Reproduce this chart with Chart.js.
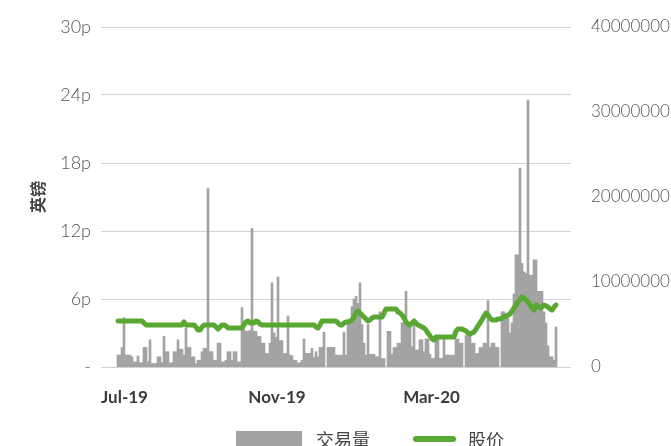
<!DOCTYPE html>
<html>
<head>
<meta charset="utf-8">
<script src="https://cdn.jsdelivr.net/npm/chart.js@4"></script>
<style>
html,body{margin:0;padding:0;background:#fff;overflow:hidden}
</style>
</head>
<body>
<canvas id="stockChart" width="671" height="446"></canvas>
<script>
// daily volume, millions of shares (Jul-19 .. Jun-20)
const volumeM = [
  1.4,1.4,2.3,5.8,1.4,1.4,1.4,1.2,0.6,0.6, 1.3,0.5,0.5,2.3,2.3,0.6,3.2,0.4,0.4,0.4,
  1.2,1.2,0.5,3.6,1.8,1.8,0.5,0.5,1.8,1.8, 3.2,2.1,2.1,1.4,4.6,2.3,2.3,1.2,1.2,0.4,
  0.8,0.8,1.8,2.2,2.2,21.0,1.8,1.8,0.8,0.8, 2.8,2.8,0.6,0.6,0.8,1.8,1.8,0.8,1.8,1.8,
  0.6,0.6,7.0,4.4,4.2,4.2,4.3,16.3,4.2,4.2, 3.6,3.6,2.8,2.8,1.6,1.6,2.8,9.9,4.0,3.5,
  10.6,3.1,3.1,1.6,1.6,6.0,1.4,1.3,0.8,0.8, 0.5,0.5,0.8,3.3,1.6,1.6,1.6,2.2,1.1,1.8,
  1.2,2.3,2.3,4.1,0,2.3,2.3,2.3,2.3,1.4, 1.4,1.4,1.4,4.1,1.4,5.5,5.5,7.1,8.0,8.3,
  7.5,9.9,5.0,2.8,1.4,5.0,1.5,1.5,1.5,1.2, 1.2,6.5,1.0,1.0,0,4.2,4.2,1.5,2.3,2.3,
  2.8,2.8,5.2,5.2,8.9,5.0,5.0,2.4,5.2,2.0, 2.0,3.2,3.2,1.8,3.3,3.3,1.5,1.0,1.0,3.3,
  3.3,1.0,1.0,3.3,1.4,1.4,1.4,1.4,1.4,3.3, 3.3,2.8,2.8,0,3.7,3.7,3.6,2.8,2.8,1.6,
  1.6,2.3,2.3,2.8,2.8,7.8,2.3,2.8,2.8,2.3, 2.3,0,6.5,6.5,5.9,5.9,4.0,5.2,8.6,13.2,
  13.2,23.4,12.2,11.2,11.0,31.4,10.8,10.8,12.6,12.6, 8.9,8.9,8.9,6.5,5.2,2.5,1.2,1.2,0.8,4.7
];

// share price, pence
const priceP = [
  4.06,4.06,4.06,4.06,4.06,4.06,4.06,4.06,4.06,4.06, 4.06,4.06,4.06,3.88,3.71,3.71,3.71,3.71,3.71,3.71,
  3.71,3.71,3.71,3.71,3.71,3.71,3.71,3.71,3.71,3.71, 3.71,3.71,3.71,3.97,3.71,3.71,3.71,3.71,3.71,3.53,
  3.26,3.26,3.53,3.71,3.71,3.71,3.71,3.71,3.71,3.53, 3.35,3.53,3.71,3.71,3.62,3.44,3.44,3.44,3.44,3.44,
  3.44,3.44,3.44,3.71,3.97,4.06,3.88,3.97,3.88,4.06, 3.97,3.79,3.71,3.71,3.71,3.71,3.71,3.71,3.71,3.71,
  3.71,3.71,3.71,3.71,3.71,3.71,3.71,3.71,3.71,3.71, 3.71,3.71,3.71,3.71,3.71,3.71,3.71,3.71,3.71,3.53,
  3.44,3.71,4.06,4.06,4.06,4.06,4.06,4.06,4.06,4.06, 3.88,3.71,3.71,3.88,3.97,3.97,4.06,4.15,4.41,4.76,
  4.94,4.76,4.59,4.41,4.24,4.06,4.15,4.32,4.41,4.41, 4.41,4.41,4.41,4.76,5.12,5.12,5.12,5.12,5.12,5.12,
  4.85,4.76,4.59,4.32,3.97,3.79,3.71,3.88,4.06,3.88, 3.71,3.62,3.53,3.44,3.26,3.00,2.74,2.47,2.38,2.65,
  2.65,2.65,2.65,2.65,2.65,2.65,2.65,2.65,2.65,3.18, 3.35,3.35,3.35,3.26,3.18,3.00,2.91,3.00,3.09,3.35,
  3.62,3.88,4.15,4.50,4.76,4.59,4.32,4.15,4.15,4.15, 4.24,4.24,4.32,4.41,4.50,4.59,4.68,4.94,5.21,5.47,
  5.74,5.91,6.18,6.09,5.91,5.74,5.47,5.21,5.03,5.47, 5.38,5.21,5.29,5.47,5.38,5.29,5.12,5.03,5.29,5.47
];

const seriesNames = ["交易量", "股价"];
const monthLabels = ["Jul-19", "Nov-19", "Mar-20"];
const monthAt = [3.25, 79.5, 156.75];   // trading-day index where each month label sits
const priceTicks = [0, 6, 12, 18, 24, 30];
const volumeTicks = [0, 10, 20, 30, 40];

const dayIndex = volumeM.map((v, i) => i);

const barColor = "#a3a3a3";
const lineColor = "#58a832";

// legend sits low and off-centre in the original, so it is drawn by hand
const bottomLegend = {
  id: "bottomLegend",
  afterDraw(chart) {
    const ctx = chart.ctx;
    ctx.save();
    ctx.fillStyle = barColor;
    ctx.fillRect(236, 431, 66, 20);
    ctx.font = '18px "Noto Sans CJK SC"';
    ctx.fillStyle = "#444";
    ctx.textBaseline = "middle";
    ctx.fillText(chart.data.datasets[0].label, 316, 440);
    ctx.strokeStyle = lineColor;
    ctx.lineWidth = 6;
    ctx.lineCap = "round";
    ctx.beginPath();
    ctx.moveTo(416, 439);
    ctx.lineTo(453, 439);
    ctx.stroke();
    ctx.fillText(chart.data.datasets[1].label, 468, 440);
    ctx.restore();
  }
};

new Chart(document.getElementById("stockChart"), {
  type: "bar",
  data: {
    labels: dayIndex,
    datasets: [
      {
        label: seriesNames[0], data: volumeM, yAxisID: "yVol",
        backgroundColor: barColor, barPercentage: 1, categoryPercentage: 1, order: 2
      },
      {
        type: "line", label: seriesNames[1], data: priceP, yAxisID: "yPrice",
        borderColor: lineColor, backgroundColor: lineColor, borderWidth: 5,
        pointRadius: 0, tension: 0, borderJoinStyle: "round", borderCapStyle: "round", order: 1
      }
    ]
  },
  options: {
    responsive: false,
    animation: false,
    events: [],
    layout: {padding: {top: 27, left: 0, right: 0, bottom: 0}},
    plugins: {legend: {display: false}, tooltip: {enabled: false}},
    scales: {
      x: {
        type: "linear", min: -8.5, max: 226.5, offset: false,
        grid: {display: false}, border: {display: false},
        afterBuildTicks: s => { s.ticks = monthAt.map(v => ({value: v})); },
        afterFit: s => { s.height = 79; },
        ticks: {
          autoSkip: false, maxRotation: 0, padding: 12,
          font: {family: "Lato", weight: "bold", size: 17}, color: "#3a3a3a",
          callback: v => monthLabels[monthAt.indexOf(v)]
        }
      },
      yPrice: {
        position: "left", min: 0, max: 30,
        afterBuildTicks: s => { s.ticks = priceTicks.map(v => ({value: v})); },
        afterFit: s => { s.width = 101; },
        grid: {color: "#d2d2d2", drawTicks: false}, border: {display: false},
        ticks: {padding: 10, font: {family: "Lato", weight: 300, size: 18}, color: "#555",
          callback: v => v === 0 ? "-" : v + "p"},
        title: {
          display: true, text: "英镑", color: "#444", padding: {top: 28},
          font: {family: "Noto Sans CJK SC", size: 16, weight: "bold"}
        }
      },
      yVol: {
        position: "right", min: 0, max: 40,
        afterBuildTicks: s => { s.ticks = volumeTicks.map(v => ({value: v})); },
        afterFit: s => { s.width = 100; },
        grid: {display: false}, border: {display: false},
        ticks: {padding: 12, font: {family: "Lato", weight: 300, size: 17}, color: "#555",
          callback: v => String(v * 1000000)}
      }
    }
  },
  plugins: [bottomLegend]
});
</script>
</body>
</html>
